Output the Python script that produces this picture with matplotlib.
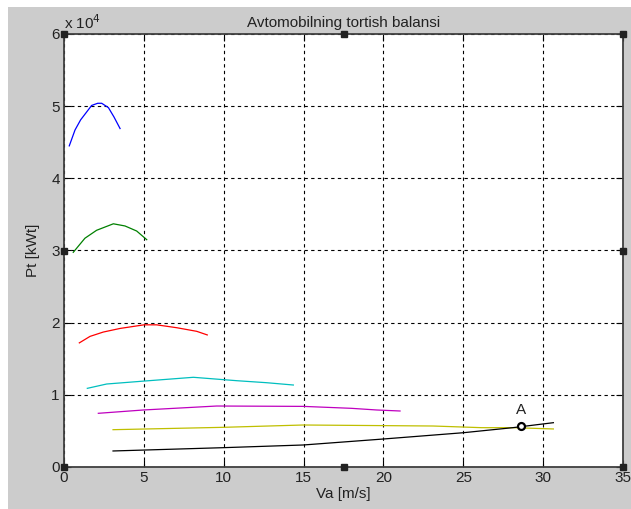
import matplotlib
matplotlib.use("Agg")
import matplotlib.pyplot as plt
from matplotlib.patches import Rectangle
from matplotlib.ticker import FuncFormatter

# traction force per gear (x 1e4) vs speed
v1 = [0.33, 0.69, 1.04, 1.42, 1.73, 2.11, 2.36, 2.78, 3.13, 3.51]
p1 = [4.45, 4.67, 4.81, 4.92, 5.01, 5.04, 5.04, 4.98, 4.85, 4.69]
v2 = [0.58, 1.31, 2.04, 3.09, 3.82, 4.55, 5.18]
p2 = [2.975, 3.17, 3.28, 3.37, 3.34, 3.27, 3.15]
v3 = [0.96, 1.63, 2.46, 3.51, 5.01, 5.8, 7.06, 8.31, 8.97]
p3 = [1.72, 1.81, 1.87, 1.92, 1.97, 1.97, 1.93, 1.88, 1.83]
v4 = [1.46, 2.67, 4.97, 8.1, 10.81, 12.69, 14.36]
p4 = [1.09, 1.15, 1.19, 1.243, 1.196, 1.168, 1.136]
v5 = [2.15, 4.97, 9.56, 14.98, 18.0, 19.58, 21.04]
p5 = [0.744, 0.79, 0.845, 0.84, 0.813, 0.79, 0.776]
v6 = [3.07, 10.0, 14.98, 23.1, 26.15, 28.1, 29.4, 30.64]
p6 = [0.517, 0.55, 0.582, 0.568, 0.545, 0.545, 0.536, 0.527]
# resistance
vr = [3.07, 10.0, 14.98, 20.0, 25.0, 28.1, 30.64]
pr = [0.222, 0.268, 0.305, 0.388, 0.475, 0.545, 0.614]
# point A
va, pa = 28.62, 0.575

scale = 1e4
gears = [(v1, p1, 'blue'), (v2, p2, 'green'), (v3, p3, 'red'),
         (v4, p4, 'c'), (v5, p5, 'm'), (v6, p6, 'y'), (vr, pr, 'k')]

plt.rcParams['font.family'] = ['Liberation Sans', 'DejaVu Sans']
txt = '#222222'
fs = 11

fig = plt.figure(figsize=(6.31, 5.09), dpi=100, facecolor='white')
fig.patches.append(Rectangle((8 / 631, 0), 1, 1 - 7 / 509, transform=fig.transFigure,
                             facecolor='#cccccc', edgecolor='none', zorder=-1))
ax = fig.add_axes([64 / 631, 42 / 509, 559 / 631, 433 / 509])
ax.set_facecolor('white')

for v, p, c in gears:
    ax.plot(v, [y * scale for y in p], color=c, lw=0.9)

ax.plot([va], [pa * scale], 'o', mfc='white', mec='k', mew=1.6, ms=5, zorder=5)
ax.annotate('A', (va, pa * scale), xytext=(0, 6), textcoords='offset points',
            ha='center', va='bottom', fontsize=fs, color=txt)

ax.set_xlim(0, 35)
ax.set_ylim(0, 6e4)
ax.set_xticks(range(0, 36, 5))
ax.set_yticks([i * scale for i in range(7)])
ax.yaxis.set_major_formatter(FuncFormatter(lambda y, pos: '%d' % round(y / scale)))
ax.grid(True, color='black', linestyle=(0, (3, 3)), linewidth=0.8)
ax.tick_params(direction='in', length=5, labelsize=fs, labelcolor=txt,
               top=True, right=True, pad=3)
for s in ax.spines.values():
    s.set_color('#404040')
    s.set_linewidth(1.3)

ax.set_title('Avtomobilning tortish balansi', fontsize=fs, color=txt, pad=5)
ax.set_xlabel('Va [m/s]', fontsize=fs, color=txt, labelpad=1)
ax.set_ylabel('Pt [kWt]', fontsize=fs, color=txt, labelpad=8)
ax.text(0, 1.005, 'x 10$^4$', transform=ax.transAxes, fontsize=fs, color=txt,
        ha='left', va='bottom')

# edit-mode selection handles
for hx, hy in [(0, 0), (0.5, 0), (1, 0), (0, 0.5), (1, 0.5), (0, 1), (0.5, 1), (1, 1)]:
    ax.plot(hx, hy, 's', color='#222222', ms=5, transform=ax.transAxes,
            clip_on=False, zorder=6)

fig.savefig('out.png', dpi=100, facecolor=fig.get_facecolor())
